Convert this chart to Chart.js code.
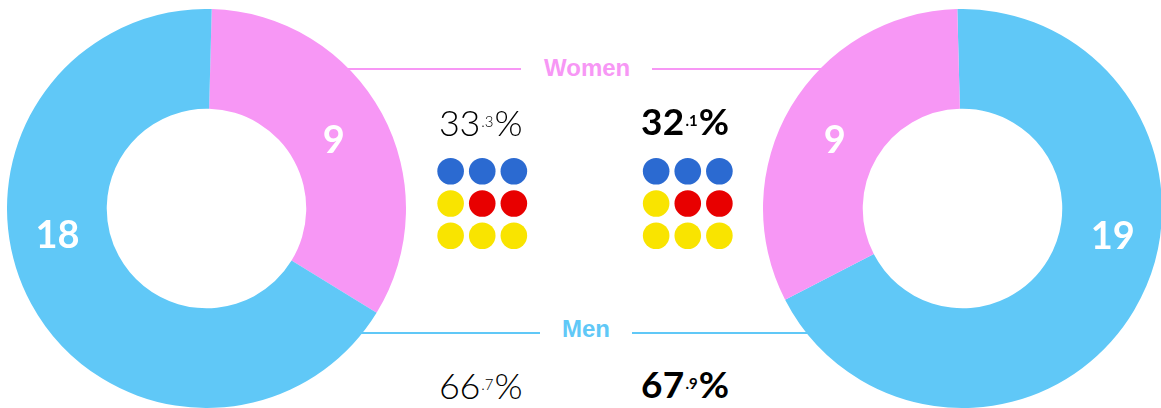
<!DOCTYPE html>
<html>
<head>
<meta charset="utf-8">
<script src="https://cdn.jsdelivr.net/npm/chart.js@4/dist/chart.umd.min.js"></script>
<style>
  html, body { margin: 0; padding: 0; background: #fff; overflow: hidden; }
  #wrap { position: relative; width: 1161px; height: 408px; }
  canvas { position: absolute; }
  .line { position: absolute; height: 2px; }
  .lbl { position: absolute; font-family: "Liberation Sans", Arial, sans-serif; font-weight: bold; font-size: 24px; line-height: 24px; white-space: nowrap; }
  .pct { position: absolute; font-family: Lato, sans-serif; font-size: 36px; line-height: 36px; white-space: nowrap; }
  .pct.thin { font-weight: 300; color: #000; letter-spacing: -0.3px; }
  .pct.bold { font-weight: 700; color: #000; letter-spacing: 0.3px; font-size: 37px; }
  .pct sup { font-size: 15px; vertical-align: 9px; letter-spacing: 0; line-height: 0; margin: 0 1px; }
</style>
</head>
<body>
<div id="wrap">
  <div class="line" id="wl1"></div><div class="line" id="wl2"></div>
  <div class="line" id="ml1"></div><div class="line" id="ml2"></div>
  <canvas id="left" width="399" height="399" style="left:7px;top:9px"></canvas>
  <canvas id="right" width="399" height="399" style="left:763px;top:9px"></canvas>
  <canvas id="dots" width="332" height="129" style="left:419px;top:139px"></canvas>
  <div class="lbl" id="womenLbl"></div>
  <div class="lbl" id="menLbl"></div>
  <div class="pct thin" id="p1" style="left:439px;top:104px"></div>
  <div class="pct bold" id="p2" style="left:641px;top:103px"></div>
  <div class="pct thin" id="p3" style="left:439px;top:367px"></div>
  <div class="pct bold" id="p4" style="left:641px;top:366px"></div>
</div>
<script>
// ---- data ----
const categories = ['Women', 'Men'];
const women = [9, 9];        // left chart, right chart
const men = [18, 19];
const pink = '#F797F5';
const blue = '#60C8F7';
const seatBlue = '#2B6AD1';
const seatYellow = '#F9E400';
const seatRed = '#E80000';
const gridLeft = [seatBlue, seatBlue, seatBlue, seatYellow, seatRed, seatRed, seatYellow, seatYellow, seatYellow];
const gridRight = [seatBlue, seatBlue, seatBlue, seatYellow, seatRed, seatRed, seatYellow, seatYellow, seatYellow];

// ---- lines & labels ----
function place(id, css) { Object.assign(document.getElementById(id).style, css); }
place('wl1', {left: '300px', top: '68px', width: '221px', background: pink});
place('wl2', {left: '652px', top: '68px', width: '220px', background: pink});
place('ml1', {left: '330px', top: '332px', width: '210px', background: blue});
place('ml2', {left: '632px', top: '332px', width: '200px', background: blue});
const wl = document.getElementById('womenLbl'); wl.textContent = categories[0];
Object.assign(wl.style, {left: '544px', top: '56px', color: pink});
const ml = document.getElementById('menLbl'); ml.textContent = categories[1];
Object.assign(ml.style, {left: '562px', top: '317px', color: blue});

function pctHTML(v, total) {
  const s = (v / total * 100).toFixed(1).split('.');
  return s[0] + '<sup>.' + s[1] + '</sup>%';
}
document.getElementById('p1').innerHTML = pctHTML(women[0], women[0] + men[0]);
document.getElementById('p2').innerHTML = pctHTML(women[1], women[1] + men[1]);
document.getElementById('p3').innerHTML = pctHTML(men[0], women[0] + men[0]);
document.getElementById('p4').innerHTML = pctHTML(men[1], women[1] + men[1]);

// ---- slice label plugin ----
const sliceLabels = {
  id: 'sliceLabels',
  afterDatasetsDraw(chart, args, opts) {
    const meta = chart.getDatasetMeta(0);
    const ctx = chart.ctx;
    ctx.save();
    ctx.font = 'bold 38px Lato, sans-serif';
    ctx.fillStyle = '#fff';
    ctx.textAlign = 'center';
    ctx.textBaseline = 'alphabetic';
    meta.data.forEach((arc, i) => {
      const a = opts.angles[i] * Math.PI / 180 - Math.PI / 2;
      const r = arc.outerRadius * opts.radii[i];
      const x = arc.x + r * Math.cos(a);
      const y = arc.y + r * Math.sin(a) + 13.5;
      ctx.fillText(String(chart.data.datasets[0].data[i]), x, y);
    });
    ctx.restore();
  }
};

function donut(id, data, colors, rotation, angles, radii) {
  return new Chart(document.getElementById(id), {
    type: 'doughnut',
    data: { labels: colors.map(c => c === pink ? categories[0] : categories[1]),
            datasets: [{ data, backgroundColor: colors, borderWidth: 0, hoverOffset: 0 }] },
    options: {
      responsive: false, animation: false, events: [],
      cutout: '50%', rotation,
      layout: { padding: 0, autoPadding: false },
      plugins: { legend: { display: false }, tooltip: { enabled: false },
                 sliceLabels: { angles, radii } }
    },
    plugins: [sliceLabels]
  });
}
donut('left', [women[0], men[0]], [pink, blue], 1.5, [61.7, 260], [0.725, 0.758]);
donut('right', [men[1], women[1]], [blue, pink], -1.5, [100, 298.2], [0.765, 0.727]);

// ---- seat dots ----
const grids = [gridLeft, gridRight];
const gridOffsets = [0, 6.5];
const pts = [], cols = [];
grids.forEach((g, gi) => g.forEach((c, k) => {
  pts.push({ x: gridOffsets[gi] + (k % 3), y: Math.floor(k / 3) });
  cols.push(c);
}));
new Chart(document.getElementById('dots'), {
  type: 'scatter',
  data: { datasets: [{ data: pts, backgroundColor: cols, borderWidth: 0, pointRadius: 13.3, pointHoverRadius: 13.3, clip: false }] },
  options: {
    responsive: false, animation: false, events: [],
    layout: { padding: 0, autoPadding: false },
    scales: {
      x: { display: false, min: -1, max: 9.5 },
      y: { display: false, min: -1, max: 3, reverse: true }
    },
    plugins: { legend: { display: false }, tooltip: { enabled: false } }
  }
});
</script>
</body>
</html>
